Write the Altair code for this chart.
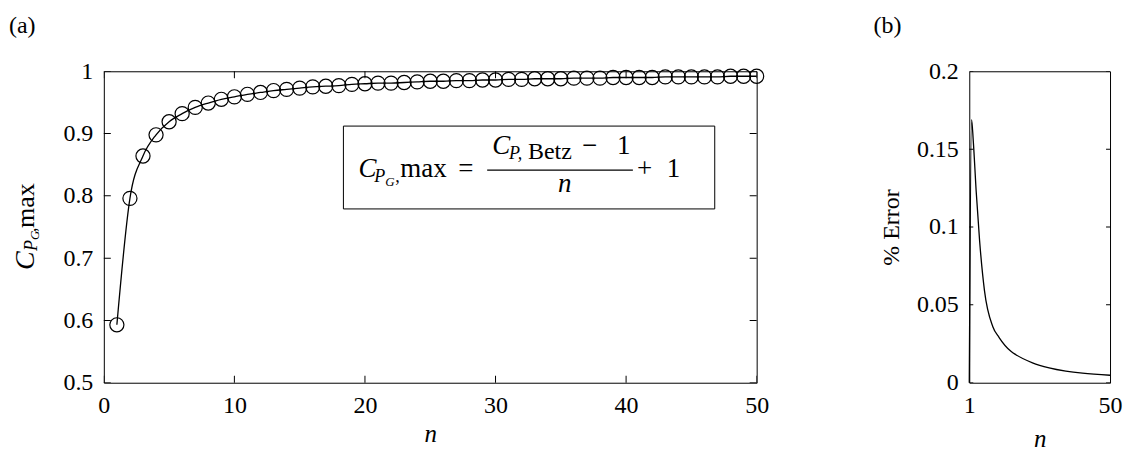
import altair as alt
import pandas as pd

# ---------------- data ----------------
n_values = list(range(1, 51))
cpg_max = [0.593, 0.796, 0.864, 0.898, 0.919, 0.932, 0.942, 0.949, 0.955, 0.959,
           0.963, 0.966, 0.969, 0.971, 0.973, 0.975, 0.976, 0.977, 0.979, 0.980,
           0.981, 0.981, 0.982, 0.983, 0.984, 0.984, 0.985, 0.985, 0.986, 0.986,
           0.987, 0.987, 0.988, 0.988, 0.988, 0.989, 0.989, 0.989, 0.990, 0.990,
           0.990, 0.990, 0.991, 0.991, 0.991, 0.991, 0.991, 0.992, 0.992, 0.992]

err_n = [1, 1.8, 2.4, 3.4, 4.6, 6.3, 9.2, 11.4, 15.6, 17.2, 23.0, 28.8, 34.6, 40.4, 50]
err_pct = [0, 0.169, 0.155, 0.123, 0.091, 0.059, 0.036, 0.029, 0.0200, 0.0180,
           0.0128, 0.0096, 0.0075, 0.0061, 0.0048]

a_x_ticks = [0, 10, 20, 30, 40, 50]
a_y_ticks = [0.5, 0.6, 0.7, 0.8, 0.9, 1.0]
b_x_ticks = [1, 50]
b_y_ticks = [0, 0.05, 0.1, 0.15, 0.2]

FONT = "Liberation Serif"
BLACK = "black"
PLAIN = "'' + datum.value"

df_a = pd.DataFrame({"n": n_values, "v": cpg_max})
df_b = pd.DataFrame({"n": err_n, "e": err_pct})

xa = alt.Scale(domain=[0, 50], nice=False, zero=False)
ya = alt.Scale(domain=[0.5, 1], nice=False, zero=False)
xb = alt.Scale(domain=[1, 50], nice=False, zero=False)
yb = alt.Scale(domain=[0, 0.2], nice=False, zero=False)


def inner_ticks(values, along, at, xs, ys, length):
    """Tick marks drawn inside the frame: a tick centred on the edge, clipped to the view."""
    df = pd.DataFrame({"t": values, "at": [at] * len(values)})
    if along == "y":
        enc = dict(x=alt.X("at:Q", scale=xs), y=alt.Y("t:Q", scale=ys))
        orient = "horizontal"
    else:
        enc = dict(x=alt.X("t:Q", scale=xs), y=alt.Y("at:Q", scale=ys))
        orient = "vertical"
    return alt.Chart(df).mark_tick(
        orient=orient, size=2 * length, thickness=1, color=BLACK, opacity=1, clip=True
    ).encode(**enc)


def text_layer(df, xs, ys, italic):
    kw = dict(align="left", baseline="alphabetic", font=FONT, color=BLACK)
    if italic:
        kw["fontStyle"] = "italic"
    return alt.Chart(df).mark_text(**kw).encode(
        x=alt.X("n:Q", scale=xs),
        y=alt.Y("v:Q", scale=ys),
        text="s:N",
        size=alt.Size("fs:Q", scale=None, legend=None),
    )


def pixel_text(s, px, py, fs, italic=False, angle=0, align="left", baseline="alphabetic"):
    kw = dict(align=align, baseline=baseline, font=FONT, fontSize=fs, color=BLACK, text=s)
    if italic:
        kw["fontStyle"] = "italic"
    if angle:
        kw["angle"] = angle
    return alt.Chart(df_a.head(1)).mark_text(**kw).encode(x=alt.value(px), y=alt.value(py))


# ---------------- panel (a) ----------------
line_a = alt.Chart(df_a).mark_line(color=BLACK, strokeWidth=1.3, interpolate="monotone").encode(
    x=alt.X("n:Q", scale=xa,
            axis=alt.Axis(values=a_x_ticks, labelExpr=PLAIN, title="n", titleFontStyle="italic",
                          titleFontSize=25, titlePadding=4)),
    y=alt.Y("v:Q", scale=ya, axis=alt.Axis(values=a_y_ticks, labelExpr=PLAIN, title=None)),
)
pts_a = alt.Chart(df_a).mark_point(
    shape="circle", filled=False, size=200, color=BLACK, strokeWidth=1.2, opacity=1
).encode(x=alt.X("n:Q", scale=xa), y=alt.Y("v:Q", scale=ya))

ticks_a = [
    inner_ticks(a_y_ticks, "y", 0, xa, ya, 7),
    inner_ticks(a_y_ticks, "y", 50, xa, ya, 7),
    inner_ticks(a_x_ticks, "x", 0.5, xa, ya, 7),
    inner_ticks(a_x_ticks, "x", 1.0, xa, ya, 7),
]

# boxed formula
box = alt.Chart(pd.DataFrame({"n": [18.35], "n2": [46.79], "v": [0.912], "v2": [0.779]})).mark_rect(
    fill="white", stroke=BLACK, strokeWidth=1
).encode(
    x=alt.X("n:Q", scale=xa), x2="n2:Q",
    y=alt.Y("v:Q", scale=ya), y2="v2:Q",
)
frac_bar = alt.Chart(pd.DataFrame({"n": [29.36], "n2": [40.52], "v": [0.8413]})).mark_rule(
    color=BLACK, strokeWidth=1.4
).encode(
    x=alt.X("n:Q", scale=xa), x2="n2:Q",
    y=alt.Y("v:Q", scale=ya),
)
eq_italic = pd.DataFrame({
    "s": ["C", "P", "G", "C", "P,", "n"],
    "n": [19.50, 20.72, 21.56, 29.74, 31.04, 34.79],
    "v": [0.8301, 0.8221, 0.8157, 0.8670, 0.8590, 0.8061],
    "fs": [27, 18, 13, 27, 18, 27],
})
eq_roman = pd.DataFrame({
    "s": [",", "max", "=", "Betz", "\u2212", "1", "+", "1"],
    "n": [22.32, 22.71, 27.14, 32.49, 36.62, 39.30, 40.83, 43.12],
    "v": [0.8221, 0.8301, 0.8301, 0.8590, 0.8670, 0.8670, 0.8301, 0.8301],
    "fs": [18, 27, 27, 24, 27, 27, 27, 27],
})

# rotated y-axis title C_{P_G},max and panel tag
ytitle_a = [
    pixel_text("C", -70, 199, 28, italic=True, angle=270),
    pixel_text("P", -67, 180, 18, italic=True, angle=270),
    pixel_text("G", -65, 169, 13, italic=True, angle=270),
    pixel_text(",", -68, 161, 18, angle=270),
    pixel_text("max", -70, 157, 26, angle=270),
]
tag_a = pixel_text("(a)", -95, -57, 24, baseline="top")

panel_a = alt.layer(
    line_a, pts_a, *ticks_a, box, frac_bar,
    text_layer(eq_italic, xa, ya, True), text_layer(eq_roman, xa, ya, False),
    *ytitle_a, tag_a,
).properties(width=654, height=312)

# ---------------- panel (b) ----------------
line_b = alt.Chart(df_b).mark_line(color=BLACK, strokeWidth=1.3, interpolate="monotone").encode(
    x=alt.X("n:Q", scale=xb,
            axis=alt.Axis(values=b_x_ticks, labelExpr=PLAIN, title="n", titleFontStyle="italic",
                          titleFontSize=25, titlePadding=9)),
    y=alt.Y("e:Q", scale=yb,
            axis=alt.Axis(values=b_y_ticks, labelExpr=PLAIN, title="% Error",
                          titleFontSize=24, titlePadding=13)),
)
ticks_b = [
    inner_ticks(b_y_ticks, "y", 1, xb, yb, 4),
    inner_ticks(b_y_ticks, "y", 50, xb, yb, 4),
]
tag_b = alt.Chart(df_b.head(1)).mark_text(
    align="left", baseline="top", font=FONT, fontSize=24, color=BLACK, text="(b)"
).encode(x=alt.value(-96), y=alt.value(-57))

panel_b = alt.layer(line_b, *ticks_b, tag_b).properties(width=141, height=312)

chart = alt.hconcat(panel_a, panel_b, spacing=103).configure(
    padding={"left": 8, "top": 13, "right": 5, "bottom": 0},
    background="white",
).configure_view(
    stroke=BLACK, strokeWidth=1
).configure_axis(
    domain=False, ticks=False, grid=False, labelFlush=False,
    labelFont=FONT, labelFontSize=24, labelColor=BLACK, labelPadding=11,
    titleFont=FONT, titleFontSize=22, titleColor=BLACK, titleFontWeight="normal",
)

chart.save("out.html", embed_options={"renderer": "svg", "actions": False})
